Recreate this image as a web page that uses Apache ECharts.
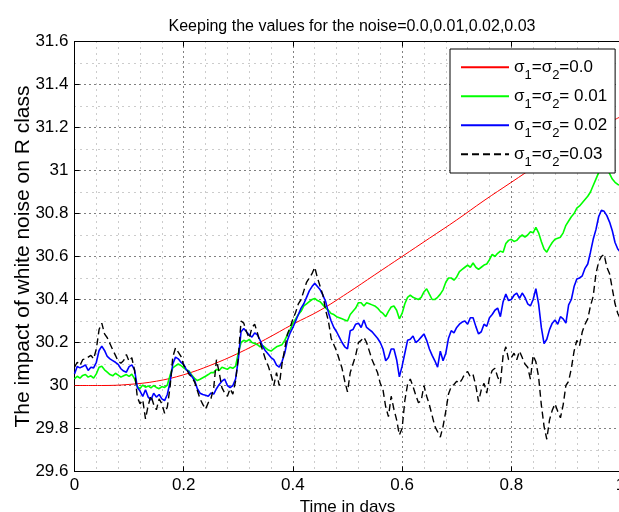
<!DOCTYPE html>
<html><head><meta charset="utf-8">
<script src="https://cdn.jsdelivr.net/npm/echarts@6/dist/echarts.min.js"></script>
<style>html,body{margin:0;padding:0;background:#fff}#c{width:619px;height:512px}</style>
</head><body><div id="c"></div>
<script>
// ---- data ----
const chartTitle = 'Keeping the values for the noise=0.0,0.01,0.02,0.03';
const xName = 'Time in days';
const yName = 'The impact of white noise on R class';
const noiseLabels = ['0.0', ' 0.01', ' 0.02', '0.03'];
const timeStep = 0.005; // sampling step of the noisy series (t = 0 .. 1)

const redTimes = [0,0.05,0.1,0.15,0.2,0.25,0.3,0.35,0.4,0.45,0.5,0.55,0.6,0.65,0.7,0.75,0.8,0.85,0.9,0.95,1.0];
const redValues = [30.00,30.00,30.005,30.02,30.05,30.095,30.15,30.215,30.285,30.35,30.43,30.515,30.60,30.685,30.77,30.86,30.945,31.03,31.11,31.185,31.25];

const greenValues = [
30.031,30.043,30.034,30.047,30.051,30.039,30.045,30.034,30.054,30.085,30.09,30.073,30.062,30.051,30.045,30.057,30.048,30.039,30.045,30.051,
30.042,30.053,30.031,29.995,29.986,30.002,29.992,29.998,29.989,30.0,29.991,29.985,29.995,29.991,30.002,30.047,30.082,30.091,30.10,30.093,
30.082,30.073,30.067,30.047,30.033,30.023,30.029,30.036,30.043,30.051,30.06,
30.06,30.075,30.07,30.085,30.08,30.075,30.085,30.08,30.09,
30.15,30.20,30.21,30.205,30.215,30.2,30.195,30.19,30.18,30.186,30.175,30.165,30.16,30.17,30.18,30.185,30.19,30.21,30.235,30.26,
30.29,30.31,30.33,30.345,30.37,30.38,30.39,30.4,30.405,30.395,30.39,30.375,30.36,30.35,30.335,30.33,30.32,30.315,30.31,30.305,30.30,
30.33,30.345,30.36,30.385,30.385,30.37,30.385,30.38,30.375,30.37,30.36,30.345,30.335,30.32,30.345,30.365,30.37,30.35,30.31,30.335,
30.38,30.41,30.42,30.41,30.405,30.40,30.41,30.435,30.45,30.425,30.40,30.40,30.41,30.425,30.445,30.48,30.50,30.50,30.49,30.505,
30.53,30.54,30.55,30.56,30.55,30.57,30.55,30.54,
30.55,30.56,30.565,30.585,30.61,30.60,30.615,30.625,30.62,30.66,30.675,30.68,30.67,30.675,30.69,30.70,30.69,30.70,30.715,30.71,
30.735,30.71,30.67,30.635,30.62,30.645,30.665,30.68,30.685,30.69,30.71,30.745,30.765,30.785,30.80,30.825,30.835,30.85,30.865,30.88,
30.90,30.93,30.96,30.99,31.005,31.025,31.01,30.985,30.96,30.945,30.935,30.93];

const blueValues = [
30.054,30.088,30.082,30.088,30.096,30.07,30.085,30.082,30.108,30.163,30.183,30.163,30.135,30.124,30.116,30.108,30.098,30.078,30.067,30.062,
30.088,30.096,30.073,29.992,29.974,29.949,29.98,29.946,29.933,29.964,29.946,29.958,29.938,29.93,29.958,30.016,30.10,30.132,30.124,30.108,
30.098,30.073,30.062,30.042,30.023,29.985,29.964,29.958,29.955,29.95,29.965,
29.96,29.985,30.005,30.02,30.03,30.0,29.99,30.0,30.03,30.12,30.25,30.265,30.25,30.235,30.225,30.245,30.235,30.21,30.18,30.16,
30.145,30.13,30.12,30.095,30.085,30.11,30.15,30.21,30.245,30.27,30.30,30.33,30.36,30.38,30.41,30.44,30.46,30.475,30.46,30.445,
30.42,30.39,30.34,30.30,30.27,30.25,30.225,30.20,30.18,30.17,
30.255,30.26,30.285,30.29,30.27,30.305,30.27,30.26,30.25,30.235,30.22,30.20,30.17,30.115,30.13,30.17,30.17,30.12,30.04,30.09,
30.15,30.21,30.215,30.23,30.2,30.21,30.225,30.24,30.21,30.17,30.14,30.115,30.085,30.16,30.115,30.15,30.22,30.255,30.245,30.27,
30.285,30.295,30.30,30.285,30.315,30.315,30.275,30.24,
30.25,30.285,30.275,30.315,30.33,30.35,30.36,30.32,30.39,30.425,30.395,30.40,30.42,30.43,30.405,30.43,30.41,30.38,30.37,30.40,
30.45,30.38,30.27,30.195,30.215,30.26,30.29,30.305,30.285,30.32,30.31,30.29,30.375,30.40,30.46,30.495,30.50,30.51,30.545,30.565,
30.62,30.68,30.725,30.785,30.815,30.81,30.79,30.76,30.72,30.665,30.635,30.62];

const blackValues = [
30.085,30.108,30.093,30.12,30.124,30.132,30.14,30.124,30.17,30.26,30.29,30.24,30.222,30.194,30.166,30.14,30.113,30.104,30.116,30.144,
30.113,30.129,30.07,29.946,29.915,29.933,29.845,29.907,29.953,29.912,29.887,29.938,29.915,29.871,29.9,29.992,30.132,30.175,30.155,30.135,
30.093,30.078,30.051,30.039,30.016,29.977,29.938,29.912,29.89,29.92,29.94,
29.99,30.12,30.06,29.99,29.965,29.95,29.985,29.96,30.02,30.13,30.3,30.29,30.25,30.22,30.27,30.285,30.245,30.20,30.16,30.12,
30.09,30.05,30.00,30.06,30.0,30.1,30.17,30.24,30.27,30.31,30.34,30.38,30.40,30.44,30.48,30.50,30.52,30.55,30.50,30.46,
30.42,30.35,30.30,30.22,30.19,30.16,30.12,30.08,30.02,29.97,
30.06,30.10,30.14,30.20,30.21,30.225,30.20,30.16,30.12,30.09,30.06,30.01,29.98,29.90,29.855,29.95,29.89,29.84,29.77,29.80,
29.93,30.005,30.03,29.995,29.955,29.92,29.93,30.0,29.95,29.91,29.86,29.81,29.785,29.76,29.81,29.88,29.96,29.995,30.005,30.02,
30.01,30.03,30.055,30.065,30.04,30.05,30.00,29.925,
29.98,30.01,29.965,30.035,30.07,30.08,30.04,30.01,30.14,30.18,30.12,30.13,30.15,30.12,30.16,30.13,30.10,30.085,30.03,30.14,
30.11,30.04,29.91,29.81,29.75,29.84,29.885,29.915,29.88,29.85,29.91,30.0,30.02,30.08,30.16,30.21,30.185,30.25,30.285,30.31,
30.37,30.415,30.52,30.575,30.60,30.61,30.55,30.52,30.45,30.38,30.335,30.31];

const xMin = 0, xMax = 1, xInterval = 0.2;
const yMin = 29.6, yMax = 31.6, yInterval = 0.2;

// ---- build ----
function pairs(vals){ return vals.map((v,i)=>[+(i*timeStep).toFixed(3), v]); }
function legendRich(noise){ return '{m|σ}{s|1}{m|=σ}{s|2}{m|=' + noise + '}'; }
const FONT = '"Liberation Sans", Arial, Helvetica, sans-serif';
const names = ['red','green','blue','black'];
const labelMap = {};
names.forEach((n,i)=>labelMap[n]=legendRich(noiseLabels[i]));

const chart = echarts.init(document.getElementById('c'), null, {renderer:'canvas'});
const axisCommon = {
  axisLine:{show:true, lineStyle:{color:'#000', width:1}},
  axisTick:{show:true, inside:true, length:5, lineStyle:{color:'#000'}},
  splitLine:{show:true, lineStyle:{color:'#000', width:1, type:[1,4]}},
  minorSplitLine:{show:true, lineStyle:{color:'#999', width:1, type:[1,5]}},
};
chart.setOption({
  animation:false,
  backgroundColor:'#fff',
  textStyle:{fontFamily:FONT},
  title:{text:chartTitle, left:347, textAlign:'center', top:14,
    textStyle:{fontSize:16, fontWeight:'normal', color:'#000', fontFamily:FONT}},
  grid:{left:74.5, right:-1.5, top:41.5, bottom:40.5, containLabel:false, outerBoundsMode:'none',
    show:true, borderColor:'#000', borderWidth:1, backgroundColor:'transparent'},
  legend:{
    data:names, orient:'vertical', left:450, top:49,
    padding:[3.7,8,4.3,10], itemGap:0, itemWidth:48, itemHeight:14,
    backgroundColor:'#fff', borderColor:'#000', borderWidth:1, borderRadius:0,
    itemStyle:{opacity:0, borderWidth:0},
    formatter:n=>labelMap[n],
    textStyle:{color:'#000', fontFamily:FONT, rich:{
      m:{fontSize:17, lineHeight:22, fontFamily:FONT, color:'#000'},
      s:{fontSize:13, lineHeight:22, fontFamily:FONT, color:'#000', padding:[16,0,0,0]}
    }}
  },
  xAxis:[Object.assign({}, axisCommon, {
    type:'value', min:xMin, max:xMax, interval:xInterval, position:'bottom',
    minorTick:{show:false, splitNumber:5},
    axisLabel:{color:'#000', fontSize:17, fontFamily:FONT, margin:5, showMaxLabel:true, showMinLabel:true},
    name:xName, nameLocation:'middle', nameGap:22,
    nameTextStyle:{color:'#000', fontSize:17, fontFamily:FONT}
  }),{
    type:'value', min:xMin, max:xMax, interval:xInterval, position:'top',
    axisLine:{show:true, lineStyle:{color:'#000'}},
    axisTick:{show:true, inside:true, length:5, lineStyle:{color:'#000'}},
    axisLabel:{show:false}, splitLine:{show:false}
  }],
  yAxis:[Object.assign({}, axisCommon, {
    type:'value', min:yMin, max:yMax, interval:yInterval,
    minorTick:{show:false, splitNumber:2},
    axisLabel:{color:'#000', fontSize:17, fontFamily:FONT, margin:6},
    name:yName, nameLocation:'middle', nameGap:41, nameMoveOverlap:false,
    nameTextStyle:{color:'#000', fontSize:21, fontFamily:FONT}
  })],
  series:[
    {name:'red', type:'line', data:redTimes.map((t,i)=>[t, redValues[i]]), smooth:0.4, symbol:'none', showSymbol:false,
      lineStyle:{color:'#ff0000', width:1}, itemStyle:{color:'#ff0000'}, z:2},
    {name:'green', type:'line', data:pairs(greenValues), symbol:'none', showSymbol:false,
      lineStyle:{color:'#00ff00', width:1.6}, itemStyle:{color:'#00ff00'}, z:3},
    {name:'blue', type:'line', data:pairs(blueValues), symbol:'none', showSymbol:false,
      lineStyle:{color:'#0000ff', width:1.6}, itemStyle:{color:'#0000ff'}, z:4},
    {name:'black', type:'line', data:pairs(blackValues), symbol:'none', showSymbol:false,
      lineStyle:{color:'#000000', width:1.4, type:[7,4]}, itemStyle:{color:'#000000'}, z:5}
  ]
});
</script></body></html>
